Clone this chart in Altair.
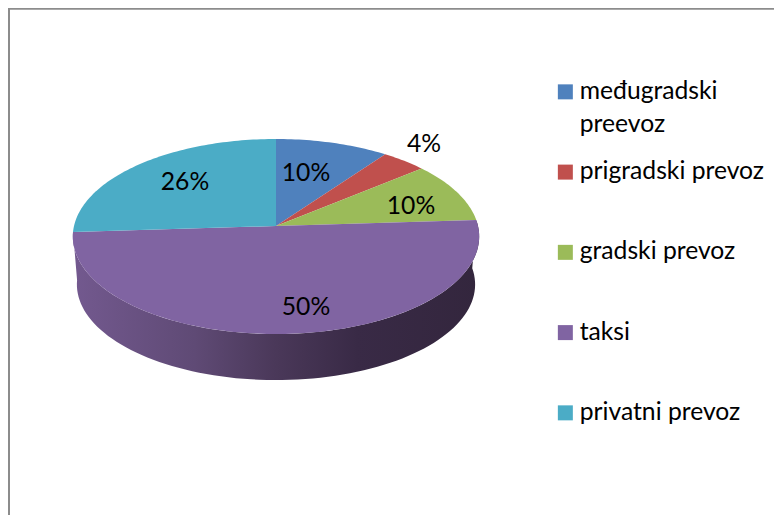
import math
import altair as alt
import pandas as pd

categories = ["međugradski preevoz", "prigradski prevoz", "gradski prevoz", "taksi", "privatni prevoz"]
shares = [10, 4, 10, 50, 26]
colors = ["#4f81bd", "#c0504d", "#9bbb59", "#8064a2", "#4bacc6"]

W, H = 766, 507
CX, CY = 268, 218          # pie apex in plot pixels
RX, RY = 202, 96.4         # pixels per pie unit
K = 0.1077                 # perspective of the tilted disc
DEPTH = 0.5                # rim depth, pie units
SHRINK = 0.98              # far rim is slightly narrower
FONT = "Lato"
FS = 24.7


def project(theta_deg, r=1.0):
    t = math.radians(theta_deg)
    u, v = r * math.sin(t), r * math.cos(t)
    w = 1 + K * v
    return u / w, v / w


x_scale = alt.Scale(domain=[-CX / RX, (W - CX) / RX], range=[0, W], nice=False, zero=False)
y_scale = alt.Scale(domain=[(CY - H) / RY, CY / RY], range=[H, 0], nice=False, zero=False)
X = alt.X("x:Q", scale=x_scale, axis=None)
Y = alt.Y("y:Q", scale=y_scale, axis=None)

rows = []
start = 0.0
for cat, share in zip(categories, shares):
    a0, a1 = start * 3.6, (start + share) * 3.6
    n = max(2, int(share * 3))
    rows.append({"cat": cat, "i": 0, "x": 0.0, "y": 0.0})
    for j in range(n + 1):
        px, py = project(a0 + (a1 - a0) * j / n)
        rows.append({"cat": cat, "i": j + 1, "x": px, "y": py})
    start += share
slices = pd.DataFrame(rows)

# side wall of the largest slice
purple_from = (10 + 4 + 10) * 3.6
purple_to = (10 + 4 + 10 + 50) * 3.6
rim = []
steps = 90
for j in range(steps + 1):
    px, py = project(purple_from + (purple_to - purple_from) * j / steps)
    rim.append({"i": j, "x": px, "y": py})
for j in range(steps + 1):
    px, py = project(purple_to - (purple_to - purple_from) * j / steps)
    rim.append({"i": steps + 1 + j, "x": px * SHRINK, "y": py * SHRINK - DEPTH})
rim_df = pd.DataFrame(rim)

rim_fill = alt.Gradient(
    gradient="linear", x1=0, x2=1, y1=0, y2=0,
    stops=[
        alt.GradientStop(offset=0, color="#73598f"),
        alt.GradientStop(offset=0.3, color="#5f4a75"),
        alt.GradientStop(offset=0.5, color="#4a3859"),
        alt.GradientStop(offset=0.7, color="#392a46"),
        alt.GradientStop(offset=1, color="#33263d"),
    ],
)
rim_layer = alt.Chart(rim_df).mark_line(fill=rim_fill, strokeWidth=0).encode(x=X, y=Y, order="i:Q")

slice_layer = alt.Chart(slices).mark_line(strokeWidth=0).encode(
    x=X, y=Y, order="i:Q",
    fill=alt.Fill(
        "cat:N",
        scale=alt.Scale(domain=categories, range=colors),
        legend=alt.Legend(
            title=None, orient="none", legendX=545, legendY=71.5,
            symbolType="square", symbolSize=225, symbolStrokeWidth=0,
            labelFont=FONT, labelFontSize=FS, labelColor="#000000", labelLimit=400,
            labelOffset=2, gridAlign="all", rowPadding=21.25, padding=0,
            labelExpr="datum.label == 'međugradski preevoz' ? ['međugradski', 'preevoz'] : datum.label",
        ),
    ),
)

label_texts = [f"{s}%" for s in shares]
label_px = [(298, 165.5), (416, 137), (403, 199), (298, 300), (177, 175)]
labels = pd.DataFrame({
    "t": label_texts,
    "x": [(p[0] - CX) / RX for p in label_px],
    "y": [(CY - p[1]) / RY for p in label_px],
})
label_layer = alt.Chart(labels).mark_text(font=FONT, fontSize=FS, color="#000000").encode(x=X, y=Y, text="t:N")

frame_top = alt.Chart(pd.DataFrame({"a": [0]})).mark_rule(color="#8c8c8c", strokeWidth=2).encode(
    x=alt.value(0), x2=alt.value(W), y=alt.value(0.7))
frame_left = alt.Chart(pd.DataFrame({"a": [0]})).mark_rule(color="#8c8c8c", strokeWidth=2).encode(
    x=alt.value(1), y=alt.value(0), y2=alt.value(H))

chart = alt.layer(frame_top, frame_left, rim_layer, slice_layer, label_layer).properties(
    width=W, height=H, padding=0, background="#ffffff",
    autosize=alt.AutoSizeParams(type="none"),
    config=alt.Config(view=alt.ViewConfig(stroke=None), style={"guide-label": {"lineHeight": 33}}),
)

chart.save("out.html", embed_options={"renderer": "svg", "actions": False})
